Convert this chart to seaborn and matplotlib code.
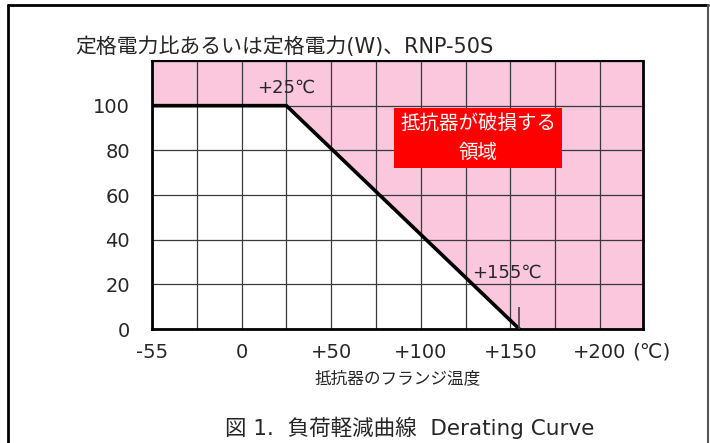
import matplotlib.pyplot as plt
import seaborn as sns
from matplotlib.lines import Line2D

# Derating curve values (flange temperature in degC, rated power ratio in %)
temps = [-55, 25, 155]
power = [100, 100, 0]

x_ticks = [-50, 0, 50, 100, 150, 200]
x_labels = ['-55', '0', '+50', '+100', '+150', '+200']
y_ticks = [0, 20, 40, 60, 80, 100]
x_grid = [-25, 25, 75, 125, 175]

sns.set_theme(style='white')
plt.rcParams['font.family'] = ['DejaVu Sans', 'Noto Sans CJK JP']

fig = plt.figure(figsize=(7.1, 4.43), dpi=100)
ax = fig.add_axes([0.2141, 0.2573, 0.6915, 0.605])
ax.set_xlim(-50, 224)
ax.set_ylim(0, 120)

# pink "damage" region above the curve
x_end = ax.get_xlim()[1]
ax.fill_between(temps + [x_end], power + [power[-1]], ax.get_ylim()[1],
                color='#fac7dd', lw=0, zorder=0.2)

# grid
ax.set_xticks(x_ticks)
ax.set_xticks(x_grid, minor=True)
ax.set_yticks(y_ticks + [120])
ax.set_yticklabels([str(v) for v in y_ticks] + [''])
ax.set_xticklabels(x_labels)
ax.grid(True, which='both', color='#3a3a3a', lw=0.9)
ax.set_axisbelow(True)
ax.tick_params(length=0, which='both', labelsize=14)
ax.tick_params(axis='x', pad=10)
ax.tick_params(axis='y', pad=16)

sns.lineplot(x=temps, y=power, ax=ax, color='black', lw=2.6, zorder=3)
ax.vlines(temps[-1], 0, 10, color='#444444', lw=1.2, zorder=3)

for s in ax.spines.values():
    s.set_color('black')
    s.set_linewidth(2)
ax.spines['top'].set_linewidth(1.5)

ax.text(25, 108, '+25℃', ha='center', va='center', fontsize=13)
ax.text(148, 25, '+155℃', ha='center', va='center', fontsize=13)
ax.text(132, 85.5, '抵抗器が破損する\n領域', ha='center', va='center', color='white',
        fontsize=14, linespacing=1.65,
        bbox=dict(facecolor='red', edgecolor='none', boxstyle='square,pad=0.3'))

ax.text(0.978, -0.085, '(℃)', transform=ax.transAxes, ha='left', va='center',
        fontsize=14.5)
ax.set_xlabel('抵抗器のフランジ温度', fontsize=12, labelpad=5)
ax.set_ylabel('')

fig.text(0.106, 0.894, '定格電力比あるいは定格電力(W)、RNP-50S', ha='left',
         va='center', fontsize=15)
fig.text(0.577, 0.034, '図 1.  負荷軽減曲線  Derating Curve', ha='center',
         va='center', fontsize=15.5)

# outer frame
fig.add_artist(Line2D([8 / 710, 8 / 710], [0, 1 - 5 / 443], color='black', lw=2))
fig.add_artist(Line2D([8 / 710, 708 / 710], [1 - 5 / 443, 1 - 5 / 443], color='black', lw=2))
fig.add_artist(Line2D([708 / 710, 708 / 710], [0, 1 - 5 / 443], color='#555555', lw=1.5))

fig.savefig('out.png', dpi=100)
